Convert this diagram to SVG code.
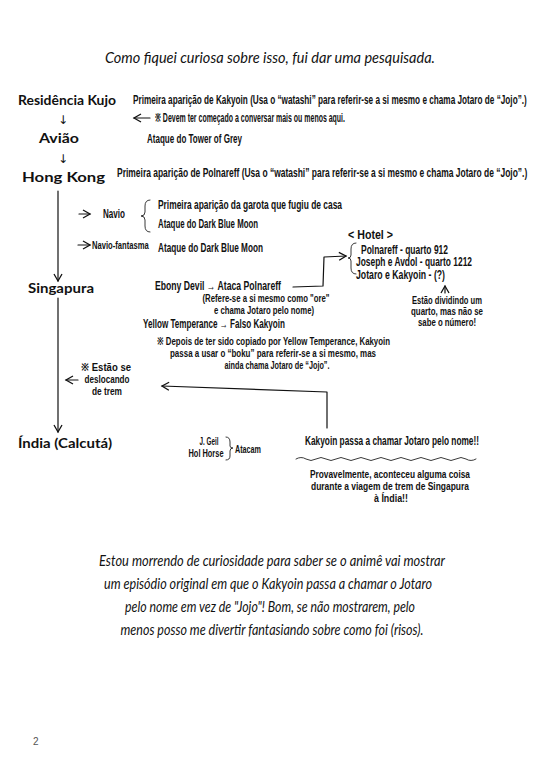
<svg xmlns="http://www.w3.org/2000/svg" width="540" height="774" viewBox="0 0 540 774">
<style>
.hand{font-family:"Lato","Noto Sans",sans-serif;font-style:italic;font-size:15px;fill:#111}
.place{font-family:"Lato","DejaVu Sans",sans-serif;font-weight:bold;font-size:14px;fill:#111}
.note{font-family:"Liberation Sans Narrow","Liberation Sans","Noto Sans",sans-serif;font-weight:bold;font-size:12px;fill:#111}
.sm{font-family:"Liberation Sans Narrow","Liberation Sans","Noto Sans",sans-serif;font-weight:bold;font-size:10.5px;fill:#111}
.sym{font-family:"DejaVu Sans",sans-serif;font-size:12px;fill:#111}
.ln{fill:none;stroke:#111;stroke-width:1.2;stroke-linecap:round;stroke-linejoin:round}
.thin{fill:none;stroke:#222;stroke-width:0.9;stroke-linecap:round}
</style>
<defs>
<marker id="v" markerWidth="10" markerHeight="10" refX="8" refY="5" orient="auto" markerUnits="userSpaceOnUse">
<path d="M1,1 L8,5 L1,9" fill="none" stroke="#111" stroke-width="1.3"/>
</marker>
</defs>
<rect width="540" height="774" fill="#fff"/>

<g id="title">
<text class="hand" x="270" y="63" text-anchor="middle" font-size="18" textLength="330" lengthAdjust="spacingAndGlyphs">Como fiquei curiosa sobre isso, fui dar uma pesquisada.</text>
</g>

<g id="residencia-kujo">
<text class="place" x="18" y="105" textLength="98" lengthAdjust="spacingAndGlyphs">Residência Kujo</text>
<text class="note" transform="translate(133,104) scale(0.75,1)" x="0" y="0" textLength="525" lengthAdjust="spacingAndGlyphs">Primeira aparição de Kakyoin (Usa o “watashi” para referir-se a si mesmo e chama Jotaro de “Jojo”.)</text>
</g>
<g id="note-conversa">
<text class="note" x="155" y="122" textLength="190" lengthAdjust="spacingAndGlyphs">※ Devem ter começado a conversar mais ou menos aqui.</text>
</g>
<g id="aviao">
<text class="place" x="59" y="143" text-anchor="middle" textLength="40" lengthAdjust="spacingAndGlyphs">Avião</text>
<text class="note" x="147" y="143" textLength="95" lengthAdjust="spacingAndGlyphs">Ataque do Tower of Grey</text>
</g>
<g id="hong-kong">
<text class="place" x="22" y="182" textLength="83" lengthAdjust="spacingAndGlyphs">Hong Kong</text>
<text class="note" transform="translate(117,177) scale(0.75,1)" x="0" y="0" textLength="547" lengthAdjust="spacingAndGlyphs">Primeira aparição de Polnareff (Usa o “watashi” para referir-se a si mesmo e chama Jotaro de “Jojo”.)</text>
</g>
<g id="navio">
<text class="note" x="103" y="218" textLength="22" lengthAdjust="spacingAndGlyphs">Navio</text>
<path class="thin" d="M150,200 Q145,200 145,206 L145,212 Q145,216 141,216 Q145,216 145,220 L145,226 Q145,232 150,232"/>
<text class="note" x="158" y="209" textLength="184" lengthAdjust="spacingAndGlyphs">Primeira aparição da garota que fugiu de casa</text>
<text class="note" x="158" y="228" textLength="100" lengthAdjust="spacingAndGlyphs">Ataque do Dark Blue Moon</text>
</g>
<g id="navio-fantasma">
<text class="sm" transform="translate(92,249) scale(0.8,1)" x="0" y="0" textLength="71" lengthAdjust="spacingAndGlyphs">Navio-fantasma</text>
<text class="note" x="158" y="252" textLength="105" lengthAdjust="spacingAndGlyphs">Ataque do Dark Blue Moon</text>
</g>
<g id="hotel">
<text class="note" x="348" y="239" textLength="45" lengthAdjust="spacingAndGlyphs">&lt; Hotel &gt;</text>
<path class="thin" d="M356,243 Q351,243 351,249 L351,255 Q351,258 348,258 Q351,258 351,261 L351,268 Q351,274 356,274"/>
<text class="note" x="361" y="254" textLength="87" lengthAdjust="spacingAndGlyphs">Polnareff - quarto 912</text>
<text class="note" x="356" y="266" textLength="116" lengthAdjust="spacingAndGlyphs">Joseph e Avdol - quarto 1212</text>
<text class="note" x="356" y="279" textLength="89" lengthAdjust="spacingAndGlyphs">Jotaro e Kakyoin - (?)</text>
</g>
<g id="note-quarto">
<text class="sm" x="447" y="304" text-anchor="middle" textLength="70" lengthAdjust="spacingAndGlyphs">Estão dividindo um</text>
<text class="sm" x="447" y="315" text-anchor="middle" textLength="72" lengthAdjust="spacingAndGlyphs">quarto, mas não se</text>
<text class="sm" x="447" y="326" text-anchor="middle" textLength="58" lengthAdjust="spacingAndGlyphs">sabe o número!</text>
</g>
<g id="singapura">
<text class="place" x="28" y="293" textLength="66" lengthAdjust="spacingAndGlyphs">Singapura</text>
</g>
<g id="ebony-devil">
<text class="note" x="155" y="290" textLength="126" lengthAdjust="spacingAndGlyphs">Ebony Devil → Ataca Polnareff</text>
<text class="sm" x="266" y="302" text-anchor="middle" textLength="127" lengthAdjust="spacingAndGlyphs">(Refere-se a si mesmo como "ore"</text>
<text class="sm" x="264" y="314" text-anchor="middle" textLength="100" lengthAdjust="spacingAndGlyphs">e chama Jotaro pelo nome)</text>
</g>
<g id="yellow-temperance">
<text class="note" x="143" y="328" textLength="142" lengthAdjust="spacingAndGlyphs">Yellow Temperance → Falso Kakyoin</text>
<text class="sm" x="157" y="345" textLength="233" lengthAdjust="spacingAndGlyphs">※ Depois de ter sido copiado por Yellow Temperance, Kakyoin</text>
<text class="sm" x="273" y="357" text-anchor="middle" textLength="206" lengthAdjust="spacingAndGlyphs">passa a usar o “boku” para referir-se a si mesmo, mas</text>
<text class="sm" x="277" y="369" text-anchor="middle" textLength="105" lengthAdjust="spacingAndGlyphs">ainda chama Jotaro de “Jojo”.</text>
</g>
<g id="note-trem">
<text class="sm" x="81" y="371" textLength="50" lengthAdjust="spacingAndGlyphs">※ Estão se</text>
<text class="sm" x="107" y="383" text-anchor="middle" textLength="45" lengthAdjust="spacingAndGlyphs">deslocando</text>
<text class="sm" x="107" y="395" text-anchor="middle" textLength="30" lengthAdjust="spacingAndGlyphs">de trem</text>
</g>
<g id="india">
<text class="place" x="18" y="448" textLength="94" lengthAdjust="spacingAndGlyphs">Índia (Calcutá)</text>
</g>
<g id="atacam">
<text class="sm" x="209" y="445" text-anchor="middle" textLength="19" lengthAdjust="spacingAndGlyphs">J. Geil</text>
<text class="sm" x="206" y="457" text-anchor="middle" textLength="35" lengthAdjust="spacingAndGlyphs">Hol Horse</text>
<path class="thin" d="M226,437 Q230,437 230,442 L230,446 Q230,448 233,448 Q230,448 230,451 L230,456 Q230,460 226,460"/>
<text class="sm" x="235" y="453" textLength="26" lengthAdjust="spacingAndGlyphs">Atacam</text>
</g>
<g id="kakyoin-nome">
<text class="note" x="305" y="445" textLength="174" lengthAdjust="spacingAndGlyphs">Kakyoin passa a chamar Jotaro pelo nome!!</text>
</g>
<g id="note-viagem">
<text class="sm" x="390" y="478" text-anchor="middle" textLength="160" lengthAdjust="spacingAndGlyphs">Provavelmente, aconteceu alguma coisa</text>
<text class="sm" x="390" y="490" text-anchor="middle" textLength="158" lengthAdjust="spacingAndGlyphs">durante a viagem de trem de Singapura</text>
<text class="sm" x="391" y="502" text-anchor="middle" textLength="34" lengthAdjust="spacingAndGlyphs">à Índia!!</text>
</g>
<g id="comment">
<text class="hand" x="272" y="566" text-anchor="middle" textLength="346" lengthAdjust="spacingAndGlyphs">Estou morrendo de curiosidade para saber se o animê vai mostrar</text>
<text class="hand" x="268" y="589" text-anchor="middle" textLength="328" lengthAdjust="spacingAndGlyphs">um episódio original em que o Kakyoin passa a chamar o Jotaro</text>
<text class="hand" x="270" y="612" text-anchor="middle" textLength="290" lengthAdjust="spacingAndGlyphs">pelo nome em vez de "Jojo"! Bom, se não mostrarem, pelo</text>
<text class="hand" x="272" y="635" text-anchor="middle" textLength="303" lengthAdjust="spacingAndGlyphs">menos posso me divertir fantasiando sobre como foi (risos).</text>
</g>
<g id="page-number">
<text x="33" y="745" font-family="Liberation Sans, sans-serif" font-size="10" fill="#555">2</text>
</g>

<g id="connectors">
<text class="sym" x="63" y="124" text-anchor="middle">↓</text>
<text class="sym" x="63" y="163" text-anchor="middle">↓</text>
<line class="ln" x1="150" y1="118" x2="134" y2="118" marker-end="url(#v)"/>
<line class="ln" x1="58" y1="191" x2="58" y2="281" stroke-width="1.5" marker-end="url(#v)"/>
<line class="ln" x1="79" y1="214" x2="90" y2="214" marker-end="url(#v)"/>
<line class="ln" x1="78" y1="245" x2="90" y2="245" marker-end="url(#v)"/>
<path class="ln" d="M293,287 L323,286 L324,257 L346,256" marker-end="url(#v)"/>
<line class="ln" x1="445" y1="293" x2="445" y2="286" marker-end="url(#v)"/>
<line class="ln" x1="58" y1="298" x2="58" y2="432" stroke-width="1.5" marker-end="url(#v)"/>
<line class="ln" x1="78" y1="380" x2="66" y2="380" marker-end="url(#v)"/>
<path class="ln" d="M327,428 L327,392 L162,386" marker-end="url(#v)"/>
<path class="thin" d="M296,459 q5,-3 10,0 t10,0 t10,0 t10,0 t10,0 t10,0 t10,0 t10,0 t10,0 t10,0 t10,0 t10,0 t10,0 t10,0 t10,0 t10,0 t10,0 t10,0"/>
</g>
</svg>
